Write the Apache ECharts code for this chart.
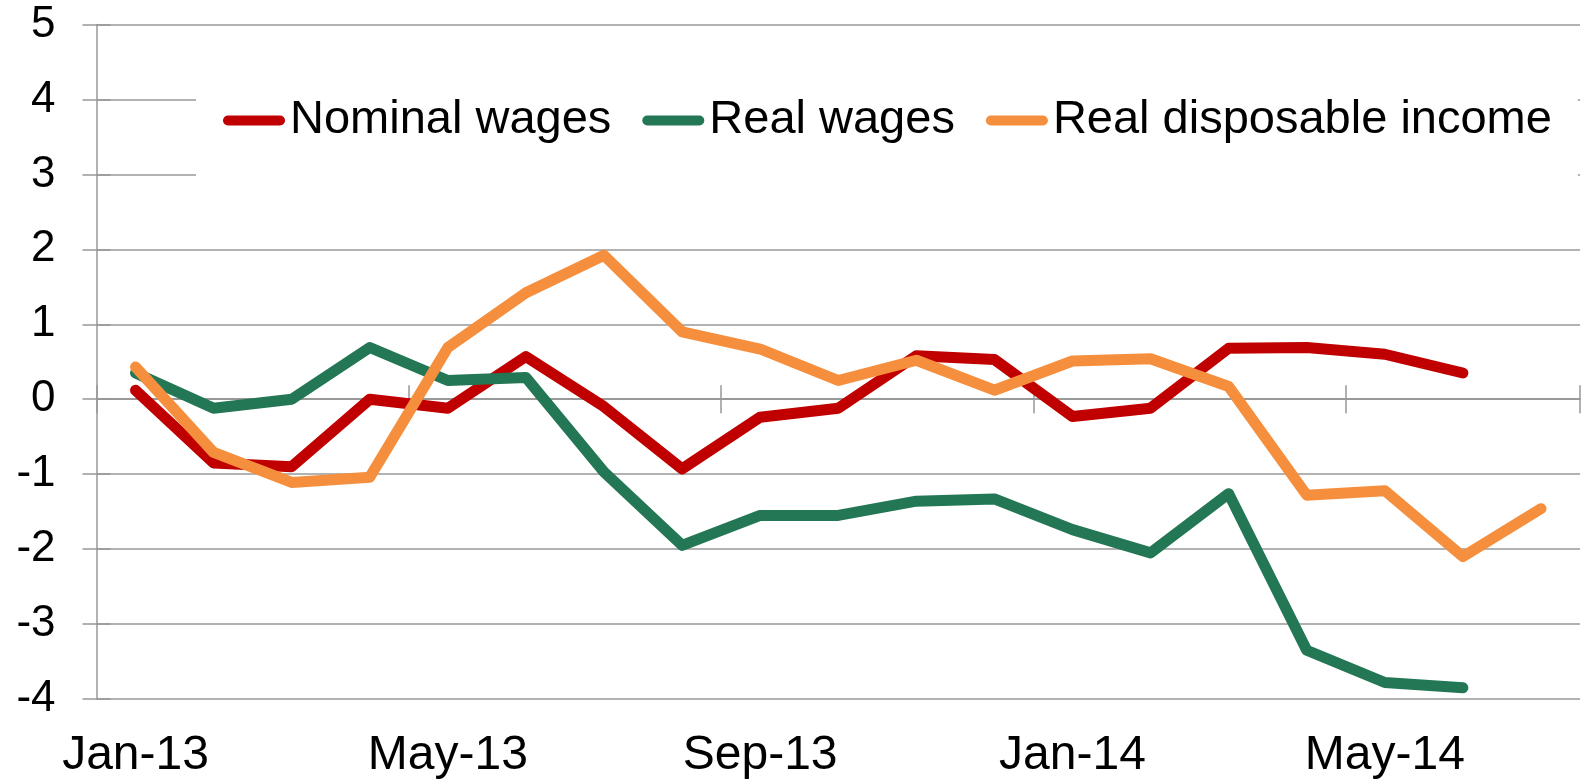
<!DOCTYPE html>
<html>
<head>
<meta charset="utf-8">
<script src="https://cdn.jsdelivr.net/npm/echarts@6/dist/echarts.min.js"></script>
<style>
  html, body { margin: 0; padding: 0; background: #fff; }
  #chart { width: 1583px; height: 781px; }
</style>
</head>
<body>
<div id="chart"></div>
<script>
// monthly categories, labels shown every 4th month
const months = [
  'Jan-13', 'Feb-13', 'Mar-13', 'Apr-13', 'May-13', 'Jun-13', 'Jul-13', 'Aug-13',
  'Sep-13', 'Oct-13', 'Nov-13', 'Dec-13', 'Jan-14', 'Feb-14', 'Mar-14', 'Apr-14',
  'May-14', 'Jun-14', 'Jul-14'
];

const nominalWages = [
  0.12, -0.85, -0.9, 0.0, -0.12, 0.57, -0.1, -0.93, -0.24, -0.12,
  0.58, 0.53, -0.23, -0.12, 0.68, 0.69, 0.6, 0.35
];

const realWages = [
  0.35, -0.12, 0.0, 0.69, 0.25, 0.29, -0.97, -1.95, -1.55, -1.55,
  -1.36, -1.33, -1.74, -2.05, -1.26, -3.35, -3.78, -3.85
];

const realDisposableIncome = [
  0.43, -0.71, -1.11, -1.04, 0.69, 1.42, 1.92, 0.9, 0.67, 0.25,
  0.52, 0.12, 0.51, 0.54, 0.17, -1.28, -1.22, -2.1, -1.46
];

const seriesNames = ['Nominal wages', 'Real wages', 'Real disposable income'];
const seriesColors = ['#c00000', '#237755', '#f68f3d'];

const FONT = '"Liberation Sans", Arial, sans-serif';
const GRID_GREY = '#989898';
const GRID_W = 1.5;
const pill = 'path://M5 0H57A5 5 0 0 1 57 10H5A5 5 0 0 1 5 0Z';

const chart = echarts.init(document.getElementById('chart'));

// the zero line carries ticks crossing it, so two tick-only axes sit on zero
function zeroAxis(inside) {
  return {
    type: 'category',
    data: months,
    position: 'bottom',
    boundaryGap: true,
    axisLine: { show: true, onZero: true, onZeroAxisIndex: 0, lineStyle: { color: GRID_GREY, width: GRID_W } },
    axisTick: {
      show: true,
      interval: function (idx) { return idx % 4 === 0 && idx < months.length; },
      inside: inside,
      length: 14,
      lineStyle: { color: GRID_GREY, width: GRID_W }
    },
    axisLabel: { show: false },
    splitLine: { show: false }
  };
}

function makeSeries(i, values) {
  return {
    name: seriesNames[i],
    type: 'line',
    data: values,
    xAxisIndex: 0,
    yAxisIndex: 0,
    showSymbol: false,
    symbol: 'none',
    color: seriesColors[i],
    lineStyle: { width: 11, color: seriesColors[i], cap: 'round', join: 'round' },
    emphasis: { disabled: true }
  };
}

const option = {
  animation: false,
  backgroundColor: '#fff',
  grid: { left: 96.5, right: 3, top: 24.5, bottom: 82 },
  legend: {
    data: seriesNames,
    left: 196,
    top: 40,
    padding: [57, 26, 55, 27],
    backgroundColor: '#fff',
    itemGap: 31,
    itemWidth: 62,
    itemHeight: 11,
    icon: pill,
    textStyle: { fontSize: 47, fontFamily: FONT, color: '#000' }
  },
  xAxis: [
    {
      type: 'category',
      data: months,
      position: 'bottom',
      boundaryGap: true,
      axisLine: { show: false, onZero: false },
      axisTick: { show: false },
      axisLabel: { interval: 3, margin: 33, fontSize: 48, fontFamily: FONT, color: '#000' },
      splitLine: { show: false }
    },
    zeroAxis(false),
    zeroAxis(true)
  ],
  yAxis: [
    {
      type: 'value',
      position: 'left',
      min: -4,
      max: 5,
      interval: 1,
      axisLine: { show: true, lineStyle: { color: GRID_GREY, width: GRID_W } },
      axisTick: { show: true, length: 14, lineStyle: { color: GRID_GREY, width: GRID_W } },
      axisLabel: { margin: 41, fontSize: 44, fontFamily: FONT, color: '#000' },
      splitLine: { show: true, lineStyle: { color: GRID_GREY, width: GRID_W } }
    },
    {
      type: 'value',
      position: 'left',
      min: -4,
      max: 5,
      interval: 1,
      axisLine: { show: false },
      axisTick: { show: true, inside: true, length: 14, lineStyle: { color: GRID_GREY, width: GRID_W } },
      axisLabel: { show: false },
      splitLine: { show: false }
    }
  ],
  series: [
    makeSeries(0, nominalWages),
    makeSeries(1, realWages),
    makeSeries(2, realDisposableIncome)
  ]
};

chart.setOption(option);
</script>
</body>
</html>
